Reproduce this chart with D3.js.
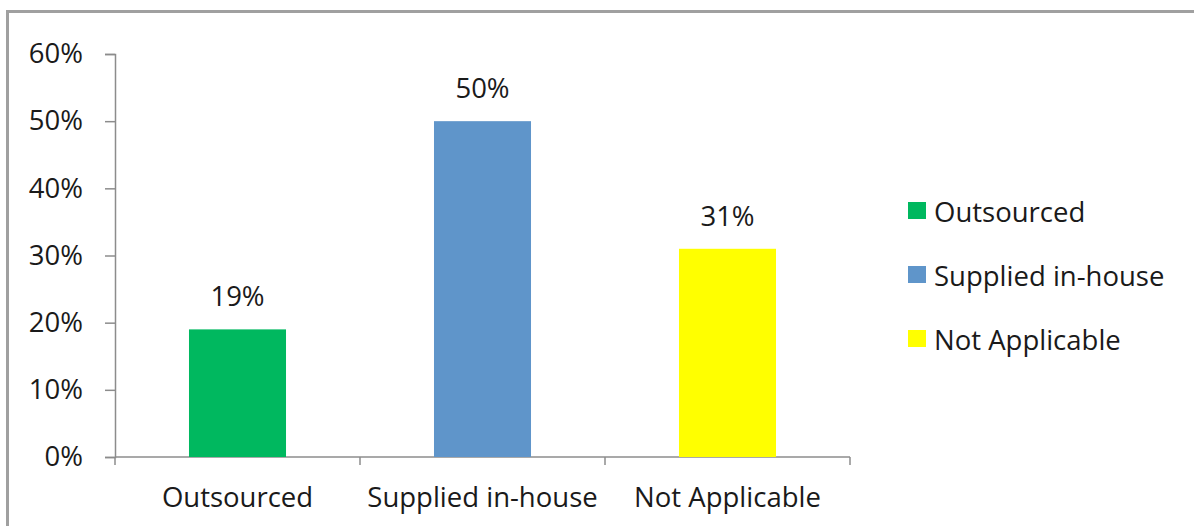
<!DOCTYPE html>
<html>
<head>
<meta charset="utf-8">
<script src="https://cdn.jsdelivr.net/npm/d3@7/dist/d3.min.js"></script>
<style>
  html, body { margin: 0; padding: 0; background: #fff; }
  svg { display: block; }
  text { font-family: "Open Sans", Lato, sans-serif; fill: #1a1a1a; }
</style>
</head>
<body>
<svg id="chart" width="1194" height="526"></svg>
<script>
// Survey responses: how the service is provided
const categories = ["Outsourced", "Supplied in-house", "Not Applicable"];
const values = [19, 50, 31];
const colors = ["#00B85F", "#5F95CA", "#FFFF00"];
const yTicks = [0, 10, 20, 30, 40, 50, 60];

const fontSize = "27.5px";
const svg = d3.select("#chart");

// Outer frame
svg.append("rect")
  .attr("x", 7.5).attr("y", 11.5)
  .attr("width", 1300).attr("height", 600)
  .attr("fill", "none").attr("stroke", "#a0a0a0").attr("stroke-width", 3);

const plot = { left: 115, right: 850, top: 54, bottom: 457 };

const x = d3.scaleBand()
  .domain(categories)
  .range([plot.left, plot.right])
  .paddingInner(0.604)
  .paddingOuter(0.302);

const y = d3.scaleLinear()
  .domain([0, 60])
  .range([plot.bottom, plot.top]);

const axisColor = "#8c8c8c";

// Y axis
const yAxis = svg.append("g")
  .attr("transform", `translate(${plot.left},0)`)
  .call(d3.axisLeft(y).tickValues(yTicks).tickFormat(d => d + "%").tickSize(10).tickPadding(22));
yAxis.select(".domain").attr("stroke", axisColor).attr("stroke-width", 1.5);
yAxis.selectAll(".tick line").attr("stroke", axisColor).attr("stroke-width", 1.5);
yAxis.selectAll(".tick text")
  .style("font-family", "'Open Sans', Lato, sans-serif")
  .style("font-size", fontSize).attr("fill", "#1a1a1a");

// X axis with ticks at category boundaries
const xg = svg.append("g").attr("transform", `translate(0,${plot.bottom})`);
xg.append("line")
  .attr("x1", plot.left).attr("x2", plot.right)
  .attr("stroke", axisColor).attr("stroke-width", 1.5);
const bounds = d3.range(categories.length + 1).map(i => plot.left + i * (plot.right - plot.left) / categories.length);
xg.selectAll("line.tick").data(bounds).join("line")
  .attr("class", "tick")
  .attr("x1", d => d).attr("x2", d => d)
  .attr("y1", 0).attr("y2", 8)
  .attr("stroke", axisColor).attr("stroke-width", 1.5);
xg.selectAll("text").data(categories).join("text")
  .attr("x", d => x(d) + x.bandwidth() / 2)
  .attr("y", 50)
  .attr("text-anchor", "middle")
  .style("font-size", fontSize)
  .text(d => d);

// Bars
svg.append("g").selectAll("rect").data(categories).join("rect")
  .attr("x", d => x(d))
  .attr("width", x.bandwidth())
  .attr("y", (d, i) => y(values[i]))
  .attr("height", (d, i) => y(0) - y(values[i]))
  .attr("fill", (d, i) => colors[i]);

// Value labels
svg.append("g").selectAll("text").data(categories).join("text")
  .attr("x", d => x(d) + x.bandwidth() / 2)
  .attr("y", (d, i) => y(values[i]) - 23)
  .attr("text-anchor", "middle")
  .style("font-size", fontSize)
  .text((d, i) => values[i] + "%");

// Legend
const legend = svg.append("g").attr("transform", "translate(908,202)");
const rows = legend.selectAll("g").data(categories).join("g")
  .attr("transform", (d, i) => `translate(0,${i * 64})`);
rows.append("rect")
  .attr("width", 18).attr("height", 17)
  .attr("fill", (d, i) => colors[i]);
rows.append("text")
  .attr("x", 26).attr("y", 20)
  .style("font-size", fontSize)
  .text(d => d);
</script>
</body>
</html>
